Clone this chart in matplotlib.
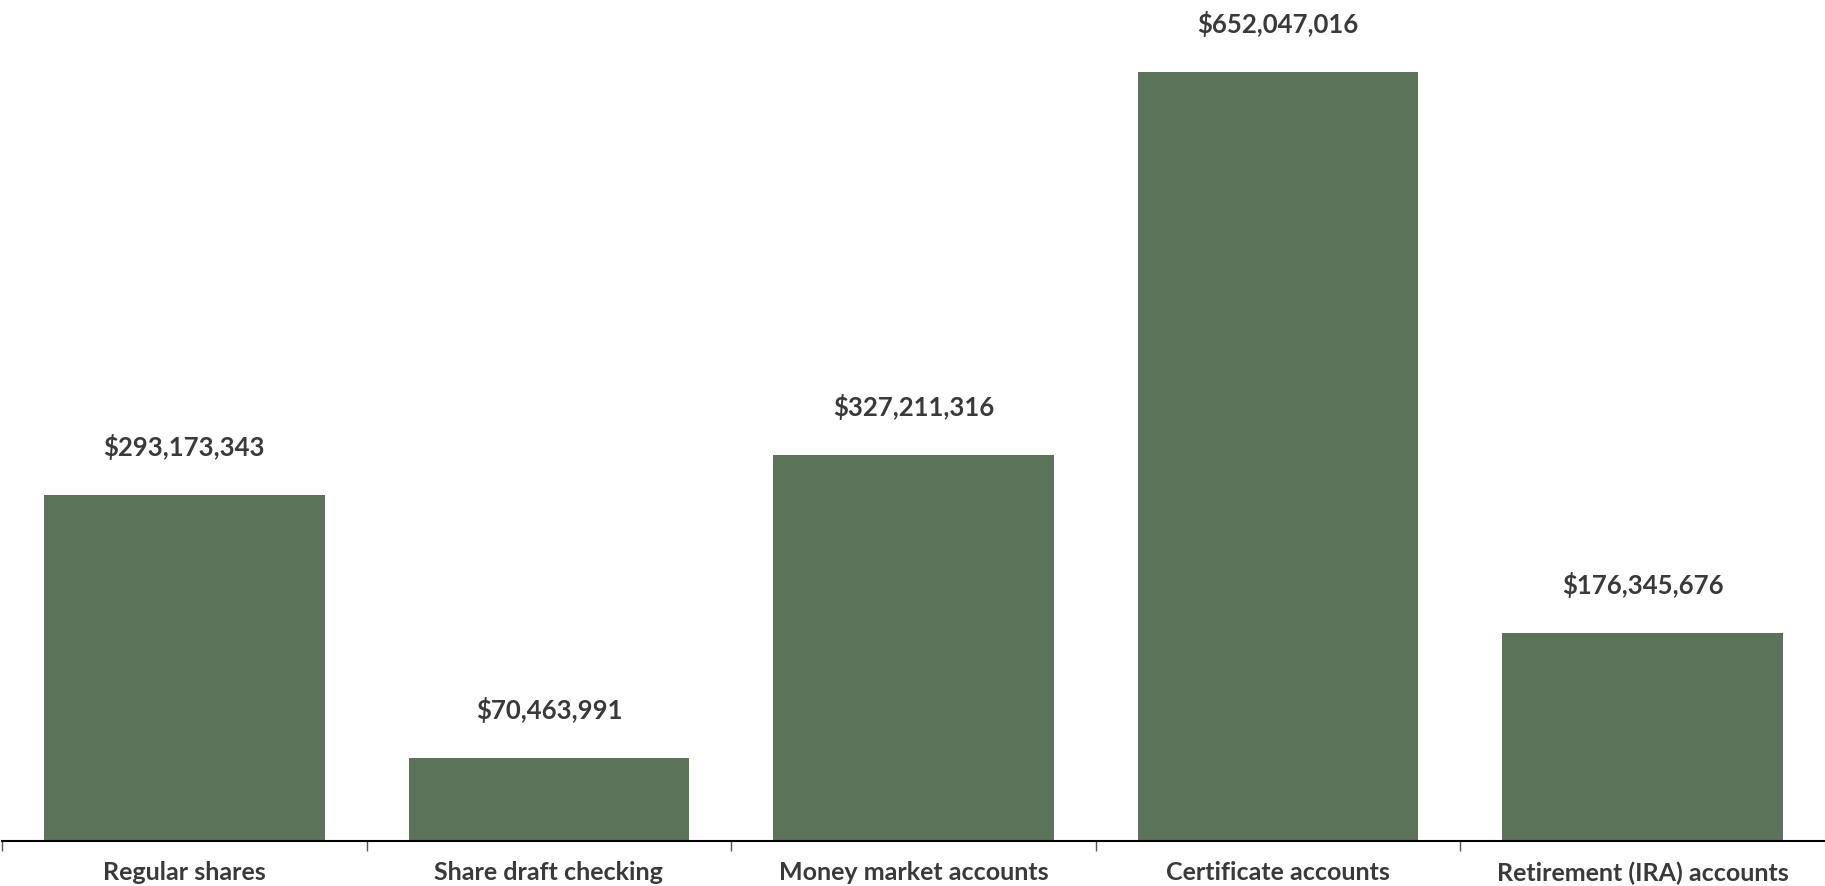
import matplotlib.pyplot as plt
from matplotlib.ticker import FixedLocator

# savings balances by account type
categories = ["Regular shares", "Share draft checking", "Money market accounts",
              "Certificate accounts", "Retirement (IRA) accounts"]
balances = [293173343, 70463991, 327211316, 652047016, 176345676]

bar_color = "#5b7359"
text_color = "#3a3a3a"

fig = plt.figure(figsize=(18.25, 8.87), dpi=100)
ax = fig.add_axes([2 / 1825, 45 / 887, 1 - 2 / 1825, 1 - 45 / 887])

x = range(len(categories))
bars = ax.bar(x, balances, width=0.77, color=bar_color)

for rect, val in zip(bars, balances):
    ax.annotate("${:,}".format(val),
                (rect.get_x() + rect.get_width() / 2, rect.get_height()),
                xytext=(0, 49), textcoords="offset pixels",
                ha="center", va="center", fontsize=18.5, fontweight="bold",
                family="Lato", color=text_color)

ax.set_xlim(-0.5, 4.5)
ax.set_ylim(0, 714e6)

for side in ["left", "right", "top"]:
    ax.spines[side].set_visible(False)
ax.spines["bottom"].set_linewidth(1.5)
ax.spines["bottom"].set_color("black")

ax.set_yticks([])
ax.set_xticks(list(x))
ax.set_xticklabels(categories, fontsize=18, fontweight="bold",
                   family="Lato", color=text_color)
ax.tick_params(axis="x", which="major", length=0, pad=14)
ax.xaxis.set_minor_locator(FixedLocator([-0.5, 0.5, 1.5, 2.5, 3.5]))
ax.tick_params(axis="x", which="minor", length=7, width=1, color="#555555")

fig.savefig("out.png", dpi=100)
